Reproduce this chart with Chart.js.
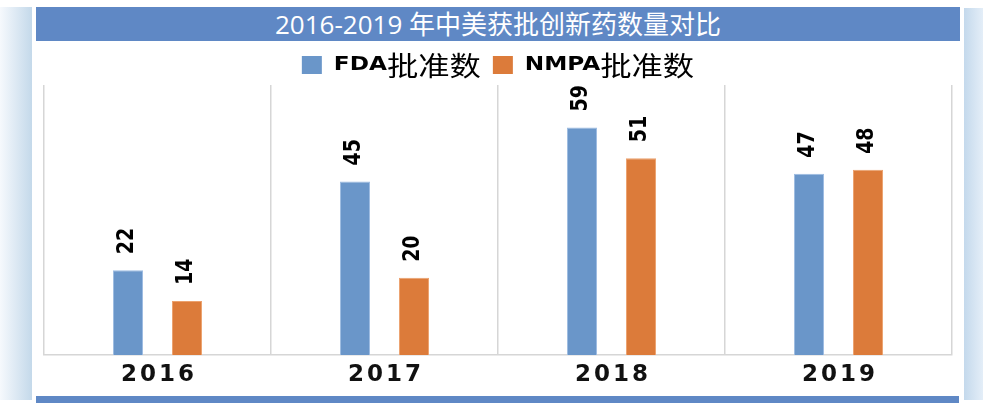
<!DOCTYPE html>
<html>
<head>
<meta charset="utf-8">
<script src="https://cdn.jsdelivr.net/npm/chart.js@4.4.1/dist/chart.umd.min.js"></script>
<style>
  html, body { margin: 0; padding: 0; background: #fff; }
  #page { position: relative; width: 983px; height: 420px; overflow: hidden; }
  .strip { position: absolute; }
  #leftStrip { left: 0; top: 7px; width: 32px; height: 393px; background: linear-gradient(to right, #f6f9fd, #c4d9ea); }
  #rightStrip { left: 964px; top: 8px; width: 19px; height: 392px; background: linear-gradient(to right, #c4d9ec, #e4eef8); }
  #titleBar {
    position: absolute; left: 36px; top: 7px; width: 924px; height: 34px;
    background: #5f88c5; color: #fff; text-align: center;
    font: 26px "Open Sans", "Noto Sans CJK SC", sans-serif; line-height: 34px;
  }
  #bottomBar { position: absolute; left: 36px; top: 396px; width: 923px; height: 7px; background: #5f88c5; }
  #chartBox { position: absolute; left: 36px; top: 41px; width: 923px; height: 355px; }
</style>
</head>
<body>
<div id="page">
  <div id="leftStrip" class="strip"></div>
  <div id="rightStrip" class="strip"></div>
  <div id="titleBar">2016-2019 年中美获批创新药数量对比</div>
  <div id="chartBox"><canvas id="drugChart"></canvas></div>
  <div id="bottomBar"></div>
</div>
<script>
const years = ['2016', '2017', '2018', '2019'];
const fdaApproved = [22, 45, 59, 47];
const nmpaApproved = [14, 20, 51, 48];
const seriesNames = [['FDA', '批准数'], ['NMPA', '批准数']];

const latinFont = '"DejaVu Sans", "Noto Sans CJK SC", sans-serif';
const cjkFont = '"Noto Sans CJK SC", sans-serif';
// the source picture is a little wider than tall, text looks stretched sideways
const stretchX = 1.16;

// numbers above bars, rotated to read upwards
const barValueLabels = {
    id: 'barValueLabels',
    afterDatasetsDraw(chart) {
        const ctx = chart.ctx;
        ctx.save();
        ctx.font = 'bold 19px ' + latinFont;
        ctx.fillStyle = '#000';
        ctx.textAlign = 'left';
        ctx.textBaseline = 'middle';
        chart.data.datasets.forEach((ds, i) => {
            chart.getDatasetMeta(i).data.forEach((bar, j) => {
                ctx.save();
                ctx.translate(bar.x - 1, bar.y - 16);
                ctx.scale(1.25, 1);
                ctx.rotate(-Math.PI / 2);
                ctx.fillText(String(ds.data[j]), 0, 0);
                ctx.restore();
            });
        });
        ctx.restore();
    }
};

// year labels under the axis, spaced out
const yearLabels = {
    id: 'yearLabels',
    afterDraw(chart) {
        const ctx = chart.ctx;
        const xScale = chart.scales.x;
        ctx.save();
        ctx.font = 'bold 23px ' + latinFont;
        ctx.letterSpacing = '3px';
        ctx.fillStyle = '#111';
        ctx.textAlign = 'center';
        ctx.textBaseline = 'middle';
        years.forEach((y, i) => {
            ctx.fillText(y, xScale.getPixelForValue(i) + 1.5, chart.chartArea.bottom + 20);
        });
        ctx.restore();
    }
};

// legend with latin part bold and the chinese part in a larger cjk face
const mixedLegend = {
    id: 'mixedLegend',
    afterDraw(chart) {
        const ctx = chart.ctx;
        const latin = 'bold 20px ' + latinFont;
        const cjk = '27px ' + cjkFont;
        const box = 20, boxGap = 12, itemGap = 12;
        const items = seriesNames.map(([a, b]) => {
            ctx.font = latin;
            const wa = ctx.measureText(a).width * stretchX;
            ctx.font = cjk;
            const wb = ctx.measureText(b).width * stretchX;
            return { a, b, wa, wb, w: box + boxGap + wa + wb };
        });
        const total = items.reduce((s, it) => s + it.w, 0) + itemGap * (items.length - 1);
        let x = (chart.chartArea.left + chart.chartArea.right) / 2 - total / 2;
        const cy = 24;
        const drawText = (txt, font, tx, ty) => {
            ctx.save();
            ctx.font = font;
            ctx.translate(tx, ty);
            ctx.scale(stretchX, 1);
            ctx.fillText(txt, 0, 0);
            ctx.restore();
        };
        ctx.save();
        ctx.textBaseline = 'middle';
        ctx.textAlign = 'left';
        items.forEach((it, i) => {
            ctx.fillStyle = chart.data.datasets[i].backgroundColor;
            ctx.fillRect(x, cy - 9, box, 18);
            x += box + boxGap;
            ctx.fillStyle = '#000';
            drawText(it.a, latin, x, cy);
            x += it.wa;
            drawText(it.b, cjk, x, cy + 1);
            x += it.wb + itemGap;
        });
        ctx.restore();
    }
};

new Chart(document.getElementById('drugChart'), {
    type: 'bar',
    data: {
        labels: years,
        datasets: [{
            label: 'FDA批准数',
            data: fdaApproved,
            backgroundColor: '#6a96c9',
            borderColor: '#9dbce2',
            borderWidth: 1,
            barPercentage: 0.51,
            categoryPercentage: 0.52
        }, {
            label: 'NMPA批准数',
            data: nmpaApproved,
            backgroundColor: '#dc7b3a',
            borderColor: '#eca16e',
            borderWidth: 1,
            barPercentage: 0.51,
            categoryPercentage: 0.52
        }]
    },
    options: {
        responsive: true,
        maintainAspectRatio: false,
        animation: false,
        layout: { padding: { left: 8, right: 7, top: 44, bottom: 41 } },
        plugins: {
            legend: { display: false },
            tooltip: { enabled: false }
        },
        scales: {
            x: {
                grid: { color: '#d6d6d6', lineWidth: 1.5, drawTicks: false, offset: true },
                border: { color: '#d6d6d6', width: 1.5 },
                ticks: { display: false }
            },
            y: {
                display: false,
                min: 0,
                max: 70
            }
        }
    },
    plugins: [barValueLabels, yearLabels, mixedLegend]
});
</script>
</body>
</html>
